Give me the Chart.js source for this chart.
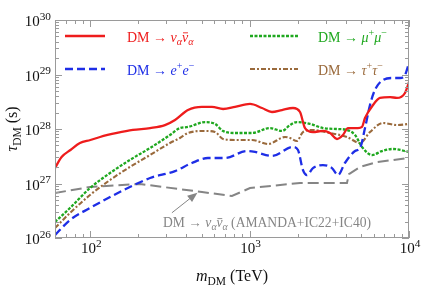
<!DOCTYPE html>
<html>
<head>
<meta charset="utf-8">
<script src="https://cdn.jsdelivr.net/npm/chart.js@4"></script>
<style>
  html, body { margin: 0; padding: 0; background: #fff; }
</style>
</head>
<body>
<canvas id="lifetimeChart" width="421" height="285"></canvas>
<script>
// DM lifetime lower limits vs DM mass, log-log

// DM -> nu nubar
const nuMass = [60, 66, 75, 86, 100, 115, 147, 185, 237, 294, 340, 410, 502, 580, 681, 809, 1005, 1195, 1380, 1595,
  1870, 2070, 2225, 2495, 2885, 3190, 3530, 3850, 4140, 4785, 5070, 5295, 5945, 6575, 7600, 8400, 9435, 10000];
const nuTau = [1.92e27, 3.06e27, 4.12e27, 5.54e27, 6.28e27, 7.13e27, 8.45e27, 9.6e27, 1.04e28, 1.18e28, 1.46e28, 2.23e28, 2.54e28, 2.54e28, 2.33e28, 2.54e28, 2.88e28, 2.43e28, 2.05e28, 2.23e28,
  2.43e28, 2.05e28, 1.04e28, 8.8e27, 9.2e27, 8.45e27, 6.56e27, 7.76e27, 1.04e28, 1.04e28, 1.09e28, 1.59e28, 2.76e28, 3.71e28, 3.86e28, 3.71e28, 4.58e28, 7.27e28];

// DM -> e+ e-
const eMass = [60, 74.5, 99.5, 133, 177, 237, 340, 434, 547, 700, 962, 1080, 1380, 1870, 2010, 2160, 2290, 2495, 2885, 3285,
  3585, 3960, 4585, 4930, 5295, 5690, 6110, 6870, 7930, 8780, 9435, 10000];
const eTau = [1.13e26, 2.14e26, 3.55e26, 5.65e26, 8.63e26, 1.26e27, 1.69e27, 2.38e27, 2.94e27, 2.94e27, 3.94e27, 3.79e27, 3.2e27, 4.68e27, 4.12e27, 1.77e27, 1.43e27, 1.92e27, 2.18e27, 1.92e27,
  1.43e27, 2.38e27, 3.94e27, 4.48e27, 1.04e28, 2.76e28, 5.2e28, 7.93e28, 8.63e28, 8.63e28, 9.8e28, 1.63e29];

// DM -> mu+ mu-
const muMass = [60, 74.5, 99.5, 133, 177, 237, 316, 365, 410, 525, 606, 681, 809, 1035, 1340, 1595, 1790, 1980, 2390, 2885,
  3530, 4080, 4585, 5070, 5860, 6765, 7930, 10000];
const muTau = [1.97e26, 3.55e26, 8.26e26, 1.56e27, 2.7e27, 4.48e27, 7.76e27, 1.04e28, 1.09e28, 1.34e28, 1.24e28, 9.2e27, 8.45e27, 8.45e27, 1.04e28, 9.2e27, 1.18e28, 1.34e28, 1.24e28, 1.04e28,
  1.0e28, 9.6e27, 7.76e27, 4.68e27, 3.33e27, 3.94e27, 4.3e27, 3.79e27];

// DM -> tau+ tau-
const tauMass = [60, 74.5, 99.5, 133, 177, 237, 316, 365, 410, 525, 606, 681, 809, 1035, 1303, 1667, 1790, 1980, 2160, 2495,
  3190, 4080, 4930, 5690, 6870, 8400, 10000];
const tauTau = [1.52e26, 2.88e26, 6.15e26, 1.16e27, 2.01e27, 3.33e27, 5.54e27, 6.84e27, 8.45e27, 9.2e27, 8.8e27, 6.56e27, 6.28e27, 6.28e27, 5.31e27, 7.13e27, 6.84e27, 6.03e27, 8.8e27, 9.6e27,
  8.45e27, 7.13e27, 5.54e27, 8.8e27, 1.29e28, 1.18e28, 1.24e28];

// AMANDA+IC22+IC40 nu nubar limit
const amandaMass = [60, 99.5, 205, 502, 774, 1005, 2070, 4080, 4200, 4930, 6300, 7930, 10000];
const amandaTau = [6.7e26, 8.63e26, 9.8e26, 6.98e26, 5.9e26, 8.26e26, 1.02e27, 1.02e27, 1.49e27, 2.01e27, 2.48e27, 2.7e27, 2.94e27];

const xTicks = [1e2, 1e3, 1e4];
const yTicks = [1e26, 1e27, 1e28, 1e29, 1e30];

const SERIF = '"Liberation Serif", "DejaVu Serif", serif';
const RED = '#ee1c1c', BLUE = '#1e2ee6', GREEN = '#1fa81f', BROWN = '#9a6a3c', GRAY = '#858585';

// label pieces (it = italic, sub/sup = sub/superscript, bar = overline)
const labelNu = [{t: 'DM \u2192 '}, {t: '\u03bd', it: 1}, {t: '\u03b1', it: 1, sub: 1}, {t: '\u03bd', it: 1, bar: 1}, {t: '\u03b1', it: 1, sub: 1}];
const labelE = [{t: 'DM \u2192 '}, {t: 'e', it: 1}, {t: '+', sup: 1}, {t: 'e', it: 1}, {t: '\u2212', sup: 1}];
const labelMu = [{t: 'DM \u2192 '}, {t: '\u03bc', it: 1}, {t: '+', sup: 1}, {t: '\u03bc', it: 1}, {t: '\u2212', sup: 1}];
const labelTau = [{t: 'DM \u2192 '}, {t: '\u03c4', it: 1}, {t: '+', sup: 1}, {t: '\u03c4', it: 1}, {t: '\u2212', sup: 1}];
const labelAmanda = labelNu.concat([{t: ' (AMANDA+IC22+IC40)'}]);

function zip(xs, ys) {
    return xs.map((x, i) => ({x: x, y: ys[i]}));
}

function partFont(p, size) {
    const s = (p.sub || p.sup) ? size * (p.scale || 0.72) : size;
    return (p.it ? 'italic ' : '') + s.toFixed(1) + 'px ' + SERIF;
}

function richWidth(ctx, parts, size) {
    let w = 0;
    parts.forEach(p => { ctx.font = partFont(p, size); w += ctx.measureText(p.t).width; });
    return w;
}

function drawRich(ctx, parts, x, y, size, color, align) {
    const w = richWidth(ctx, parts, size);
    let cx = align === 'center' ? x - w / 2 : (align === 'right' ? x - w : x);
    ctx.fillStyle = color;
    ctx.strokeStyle = color;
    ctx.textAlign = 'left';
    ctx.textBaseline = 'alphabetic';
    parts.forEach(p => {
        ctx.font = partFont(p, size);
        const dy = p.sub ? size * 0.22 : (p.sup ? -size * 0.42 : 0);
        const pw = ctx.measureText(p.t).width;
        ctx.fillText(p.t, cx, y + dy);
        if (p.bar) {
            ctx.lineWidth = 0.9;
            ctx.beginPath();
            ctx.moveTo(cx + pw * 0.15, y - size * 0.62);
            ctx.lineTo(cx + pw * 0.95, y - size * 0.62);
            ctx.stroke();
        }
        cx += pw;
    });
}

function powParts(v) {
    return [{t: '10'}, {t: String(Math.round(Math.log10(v))), sup: 1, scale: 0.75}];
}

// legend slots: red / blue in the left column, green / brown in the right
const series = [
    {parts: labelNu, color: RED, dash: [], width: 2.3, col: 0, row: 0},
    {parts: labelE, color: BLUE, dash: [8, 4], width: 2.3, col: 0, row: 1},
    {parts: labelMu, color: GREEN, dash: [3, 1.5], width: 2.3, col: 1, row: 0},
    {parts: labelTau, color: BROWN, dash: [5, 2, 2, 2], width: 2.1, col: 1, row: 1}
];

const decorPlugin = {
    id: 'decor',
    afterDraw(chart) {
        const ctx = chart.ctx, a = chart.chartArea;
        const xs = chart.scales.x, ys = chart.scales.y;
        ctx.save();

        // frame
        ctx.strokeStyle = '#9a9a9a';
        ctx.lineWidth = 1;
        ctx.setLineDash([]);
        ctx.strokeRect(a.left + 0.5, a.top + 0.5, a.right - a.left - 1, a.bottom - a.top - 1);

        // inward ticks on all four sides
        ctx.beginPath();
        for (let d = 1; d <= 4; d++) {
            for (let k = 1; k <= 9; k++) {
                const v = k * Math.pow(10, d);
                if (v < xs.min || v > xs.max) continue;
                const px = Math.round(xs.getPixelForValue(v)) + 0.5;
                const len = k === 1 ? 7 : 4;
                ctx.moveTo(px, a.bottom); ctx.lineTo(px, a.bottom - len);
                ctx.moveTo(px, a.top); ctx.lineTo(px, a.top + len);
            }
        }
        for (let d = 26; d <= 30; d++) {
            for (let k = 1; k <= 9; k++) {
                const v = k * Math.pow(10, d);
                if (v < ys.min || v > ys.max * 1.0001) continue;
                const py = Math.round(ys.getPixelForValue(v)) + 0.5;
                const len = k === 1 ? 7 : 4;
                ctx.moveTo(a.left, py); ctx.lineTo(a.left + len, py);
                ctx.moveTo(a.right, py); ctx.lineTo(a.right - len, py);
            }
        }
        ctx.stroke();

        // tick labels
        xTicks.forEach(v => drawRich(ctx, powParts(v), xs.getPixelForValue(v) + 1, a.bottom + 15, 15, '#111', 'center'));
        yTicks.forEach(v => drawRich(ctx, powParts(v), a.left - 4, ys.getPixelForValue(v) + 6, 15, '#111', 'right'));

        // axis titles
        drawRich(ctx, [{t: 'm', it: 1}, {t: 'DM', sub: 1}, {t: ' (TeV)'}], (a.left + a.right) / 2, 281, 16, '#111', 'center');
        ctx.save();
        ctx.translate(17, (a.top + a.bottom) / 2);
        ctx.rotate(-Math.PI / 2);
        drawRich(ctx, [{t: '\u03c4', it: 1}, {t: 'DM', sub: 1}, {t: ' (s)'}], 0, 0, 16, '#111', 'center');
        ctx.restore();

        // legend (inside plot, two columns)
        series.forEach(s => {
            const lx = a.left + (s.col === 0 ? 10 : 195);
            const ly = a.top + (s.row === 0 ? 16 : 49);
            ctx.strokeStyle = s.color;
            ctx.lineWidth = s.width;
            ctx.setLineDash(s.dash);
            ctx.beginPath();
            ctx.moveTo(lx, ly);
            ctx.lineTo(lx + (s.col === 0 ? 40 : 48), ly);
            ctx.stroke();
            ctx.setLineDash([]);
            drawRich(ctx, s.parts, lx + (s.col === 0 ? 62 : 68), ly + 5.5, 14, s.color, 'left');
        });

        // annotation for the AMANDA curve
        const tipX = xs.getPixelForValue(470), tipY = ys.getPixelForValue(6.8e26);
        const tailX = xs.getPixelForValue(325), tailY = ys.getPixelForValue(2.9e26);
        const ang = Math.atan2(tipY - tailY, tipX - tailX);
        ctx.strokeStyle = GRAY;
        ctx.fillStyle = GRAY;
        ctx.lineWidth = 1;
        ctx.beginPath();
        ctx.moveTo(tailX, tailY);
        ctx.lineTo(tipX - 6 * Math.cos(ang), tipY - 6 * Math.sin(ang));
        ctx.stroke();
        ctx.beginPath();
        ctx.moveTo(tipX, tipY);
        ctx.lineTo(tipX - 10 * Math.cos(ang) + 4 * Math.sin(ang), tipY - 10 * Math.sin(ang) - 4 * Math.cos(ang));
        ctx.lineTo(tipX - 10 * Math.cos(ang) - 4 * Math.sin(ang), tipY - 10 * Math.sin(ang) + 4 * Math.cos(ang));
        ctx.closePath();
        ctx.fill();
        drawRich(ctx, labelAmanda, xs.getPixelForValue(286), ys.getPixelForValue(1.59e26), 13.6, GRAY, 'left');

        ctx.restore();
    }
};

function lineSet(xs, ys, s) {
    return {
        data: zip(xs, ys),
        borderColor: s.color,
        borderWidth: s.width,
        borderDash: s.dash,
        cubicInterpolationMode: 'monotone',
        fill: false,
        pointRadius: 0
    };
}

new Chart(document.getElementById('lifetimeChart'), {
    type: 'line',
    data: {
        datasets: [
            lineSet(nuMass, nuTau, series[0]),
            lineSet(eMass, eTau, series[1]),
            lineSet(muMass, muTau, series[2]),
            lineSet(tauMass, tauTau, series[3]),
            {
                data: zip(amandaMass, amandaTau),
                borderColor: GRAY,
                borderWidth: 2,
                borderDash: [11, 5],
                tension: 0,
                fill: false,
                pointRadius: 0
            }
        ]
    },
    options: {
        responsive: false,
        animation: false,
        devicePixelRatio: 1,
        layout: {padding: {left: 55, right: 12, top: 20, bottom: 47}},
        plugins: {legend: {display: false}, tooltip: {enabled: false}},
        scales: {
            x: {type: 'logarithmic', min: 60, max: 1e4, display: false},
            y: {type: 'logarithmic', min: 1e26, max: 1e30, display: false}
        }
    },
    plugins: [decorPlugin]
});
</script>
</body>
</html>
